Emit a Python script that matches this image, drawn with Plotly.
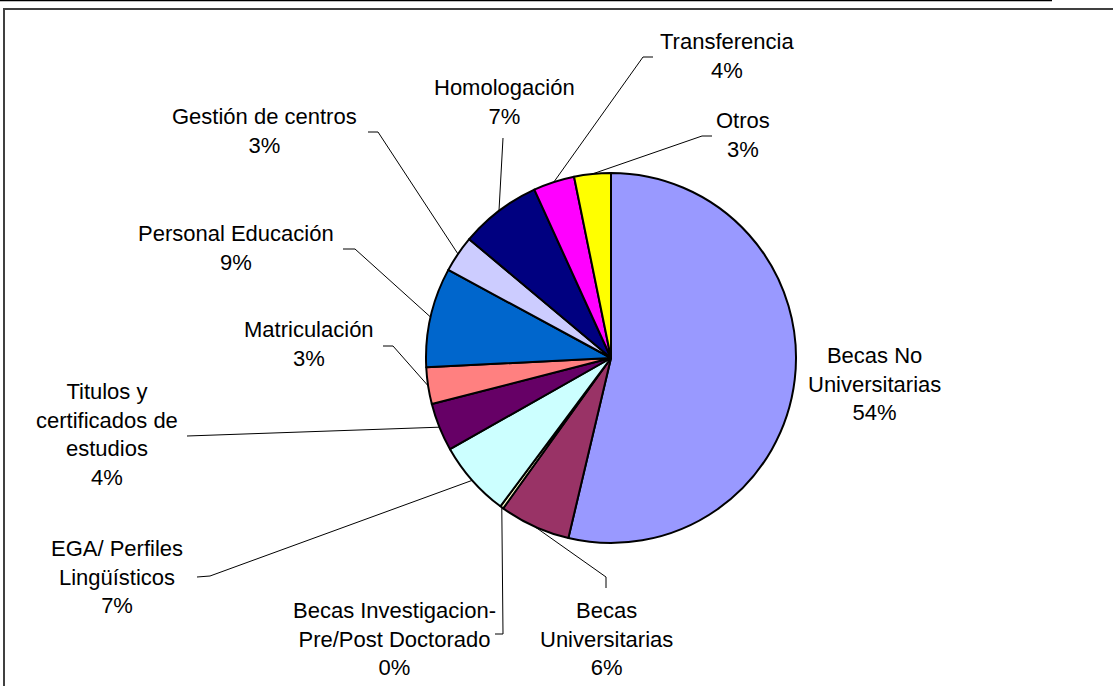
import math
import plotly.graph_objects as go

# slice data, clockwise from 12 o'clock
labels = [
    "Becas No<br>Universitarias",
    "Becas<br>Universitarias",
    "Becas Investigacion-<br>Pre/Post Doctorado",
    "EGA/ Perfiles<br>Lingüísticos",
    "Titulos y<br>certificados de<br>estudios",
    "Matriculación",
    "Personal Educación",
    "Gestión de centros",
    "Homologación",
    "Transferencia",
    "Otros",
]
values = [53.7, 6.2, 0.3, 6.6, 4.2, 3.2, 8.7, 3.2, 7.1, 3.6, 3.2]

colors = ["#9999FF", "#993366", "#FFFFCC", "#CCFFFF", "#660066", "#FF8080",
          "#0066CC", "#CCCCFF", "#000080", "#FF00FF", "#FFFF00"]

W, H = 1113, 686
CX, CY, R = 611, 358, 185

# label block centres (px) and leader line bends (px), layout only
label_pos = [(874, 384), (606, 639), (394, 639), (117, 577), (107, 434),
             (309, 344), (236, 248), (264, 131), (504, 102), (727, 56), (743, 135)]
leader_pts = [
    None,
    [(606, 577), (606, 588)],
    [(503, 634), (495, 634)],
    [(210, 576), (197, 577)],
    [(187, 436)],
    [(393, 346), (383, 346)],
    [(355, 249), (343, 249)],
    [(378, 132), (368, 132)],
    [(503, 138)],
    [(643, 57), (653, 57)],
    [(702, 136), (712, 136)],
]

total = sum(values)
font = dict(family="Liberation Sans, Arial, sans-serif", size=22, color="black")

fig = go.Figure()
fig.add_trace(
    go.Pie(
        labels=[l.replace("<br>", " ") for l in labels],
        values=values,
        sort=False,
        direction="clockwise",
        rotation=0,
        marker=dict(colors=colors, line=dict(color="black", width=2)),
        textinfo="none",
        showlegend=False,
        domain=dict(
            x=[(CX - R) / W, (CX + R) / W],
            y=[(H - CY - R) / H, (H - CY + R) / H],
        ),
    )
)

annotations = []
cum = 0.0
for lab, v, pos, pts in zip(labels, values, label_pos, leader_pts):
    mid = (cum + v / 2) / total * 2 * math.pi
    cum += v
    pct = round(v / total * 100)
    annotations.append(
        dict(x=pos[0], y=pos[1], xref="x", yref="y", text=f"{lab}<br>{pct}%",
             showarrow=False, font=font, align="center",
             xanchor="center", yanchor="middle")
    )
    if pts:
        ex = CX + R * math.sin(mid)
        ey = CY - R * math.cos(mid)
        xs = [ex] + [p[0] for p in pts]
        ys = [ey] + [p[1] for p in pts]
        fig.add_trace(
            go.Scatter(x=xs, y=ys, mode="lines", line=dict(color="black", width=1),
                       hoverinfo="skip", showlegend=False)
        )

fig.update_layout(
    width=W,
    height=H,
    margin=dict(l=0, r=0, t=0, b=0),
    paper_bgcolor="white",
    plot_bgcolor="white",
    xaxis=dict(range=[0, W], visible=False, fixedrange=True),
    yaxis=dict(range=[H, 0], visible=False, fixedrange=True),
    annotations=annotations,
    shapes=[
        dict(type="line", xref="x", yref="y", x0=0, y0=0.5, x1=1052, y1=0.5,
             line=dict(color="black", width=1.5)),
        dict(type="rect", xref="x", yref="y", x0=4, y0=9, x1=1130, y1=700,
             line=dict(color="#404040", width=2)),
    ],
)

fig.write_html(
    "out.html",
    config={"displayModeBar": False},
    post_script="document.body.style.margin='0';document.body.style.overflow='hidden';",
)
